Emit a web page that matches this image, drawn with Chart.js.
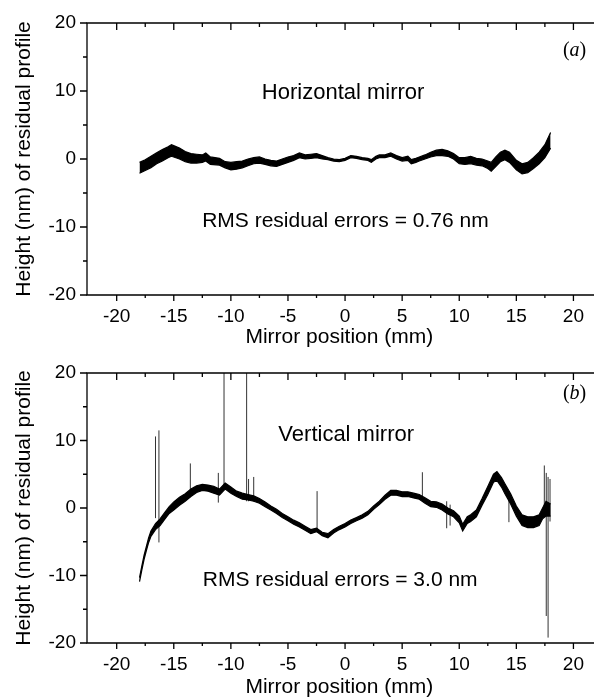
<!DOCTYPE html>
<html>
<head>
<meta charset="utf-8">
<script src="https://cdn.jsdelivr.net/npm/chart.js@4/dist/chart.umd.min.js"></script>
<style>
  body { margin: 0; background: #fff; }
  canvas { display: block; }
</style>
</head>
<body>
<canvas id="chartA" width="594" height="350"></canvas>
<canvas id="chartB" width="594" height="350"></canvas>
<script>
// axis ticks
var xTickValues = [-20, -15, -10, -5, 0, 5, 10, 15, 20];
var yTickValues = [-20, -10, 0, 10, 20];
var xMinor = [-20, -17.5, -15, -12.5, -10, -7.5, -5, -2.5, 0, 2.5, 5, 7.5, 10, 12.5, 15, 17.5, 20];
var yMinor = [-20, -15, -10, -5, 0, 5, 10, 15, 20];

// (a) horizontal mirror: upper and lower edge of the noisy trace
var posA = [-18, -17.5, -17, -16.5, -16, -15.5, -15.2, -14.5, -14, -13.5,
            -13, -12.5, -12.2, -11.8, -11, -10.5, -10, -9.5, -9, -8.5,
            -8, -7.5, -7, -6.5, -6, -5.5, -5, -4.5, -4, -3.5,
            -3, -2.5, -2, -1.5, -1, -0.5, 0, 0.5, 1, 1.5,
            2, 2.3, 2.7, 3, 3.5, 4, 4.5, 5, 5.5, 5.8,
            6.2, 6.5, 7, 7.5, 8, 8.5, 9, 9.5, 10, 10.5,
            11, 11.5, 12, 12.5, 12.8, 13.2, 13.6, 14, 14.4, 15,
            15.5, 16, 16.5, 17, 17.5, 18];
var topA = [-0.5, -0.1, 0.4, 0.9, 1.4, 1.8, 2.1, 1.6, 1.1, 0.8,
            0.7, 0.6, 0.9, 0.3, 0.1, -0.4, -0.5, -0.4, -0.3, 0.0,
            0.2, 0.3, 0.0, -0.2, -0.3, 0.0, 0.3, 0.5, 0.9, 0.6,
            0.7, 0.8, 0.5, 0.2, 0.0, -0.1, 0.1, 0.5, 0.4, 0.2,
            0.1, -0.1, 0.4, 0.6, 0.6, 0.9, 0.5, 0.2, 0.4, -0.1,
            0.1, 0.3, 0.6, 1.0, 1.3, 1.4, 1.2, 0.8, 0.2, 0.2,
            0.4, 0.1, 0.0, -0.3, -0.5, 0.3, 1.0, 1.3, 1.0, -0.2,
            -0.7, -0.5, 0.2, 1.0, 2.1, 3.9];
var lowA = [-2.1, -1.7, -1.3, -0.7, -0.3, 0.2, 0.4, 0.0, -0.4, -0.6,
            -0.6, -0.5, -0.3, -0.8, -0.9, -1.3, -1.6, -1.5, -1.3, -1.0,
            -0.7, -0.6, -0.8, -1.0, -1.1, -0.8, -0.5, -0.2, 0.2, 0.0,
            0.1, 0.2, 0.0, -0.1, -0.3, -0.4, -0.2, 0.2, 0.1, -0.1,
            -0.2, -0.5, 0.0, 0.2, 0.2, 0.4, 0.0, -0.3, -0.2, -0.7,
            -0.5, -0.3, 0.0, 0.3, 0.5, 0.5, 0.4, 0.0, -0.7, -0.8,
            -0.7, -0.9, -1.0, -1.4, -1.8, -1.1, -0.4, -0.1, -0.5, -1.6,
            -2.2, -2.0, -1.4, -0.7, 0.2, 1.6];

// (b) vertical mirror
var posB = [-18, -17.8, -17.6, -17.4, -17.2, -17, -16.6, -16.2, -15.8, -15.4,
            -15, -14.5, -14, -13.5, -13, -12.5, -12, -11.5, -11, -10.5,
            -10, -9.5, -9, -8.5, -8, -7.5, -7, -6.5, -6, -5.5,
            -5, -4.5, -4, -3.5, -3, -2.5, -2, -1.5, -1, -0.5,
            0, 0.5, 1, 1.5, 2, 2.5, 3, 3.5, 4, 4.5,
            5, 5.5, 6, 6.5, 7, 7.5, 8, 8.5, 9, 9.5,
            10, 10.3, 10.7, 11, 11.5, 12, 12.5, 13, 13.3, 13.7,
            14, 14.5, 15, 15.5, 16, 16.5, 17, 17.3, 17.6, 18];
var topB = [-10.3, -8.6, -7.0, -5.7, -4.4, -3.4, -2.3, -1.6, -0.7, 0.2,
            0.9, 1.6, 2.1, 2.8, 3.3, 3.5, 3.4, 3.2, 2.8, 3.7,
            3.1, 2.5, 2.2, 2.0, 1.8, 1.4, 0.9, 0.3, -0.2, -0.8,
            -1.3, -1.8, -2.2, -2.7, -3.2, -3.0, -3.6, -3.8, -3.2, -2.7,
            -2.3, -1.8, -1.4, -1.0, -0.5, 0.3, 1.0, 1.9, 2.6, 2.6,
            2.4, 2.4, 2.2, 2.0, 1.5, 1.0, 0.9, 0.6, 0.0, -0.4,
            -1.2, -2.4, -1.3, -1.0, -0.3, 1.4, 3.2, 5.0, 5.4, 4.5,
            3.6, 2.1, 0.3, -1.0, -1.3, -1.3, -1.0, 0.0, 1.0, 0.6];
var lowB = [-10.9, -9.2, -7.6, -6.3, -5.1, -4.2, -3.2, -2.6, -1.7, -0.8,
            -0.3, 0.4, 1.0, 1.7, 2.3, 2.6, 2.5, 2.2, 1.9, 2.8,
            2.2, 1.7, 1.3, 1.2, 1.0, 0.7, 0.2, -0.3, -0.8, -1.4,
            -1.9, -2.4, -2.8, -3.3, -3.8, -3.5, -4.1, -4.4, -3.7, -3.2,
            -2.8, -2.3, -1.9, -1.5, -1.0, -0.2, 0.5, 1.3, 1.9, 1.9,
            1.7, 1.7, 1.5, 1.3, 0.7, 0.2, 0.1, -0.3, -0.9, -1.3,
            -2.2, -3.4, -2.3, -2.0, -1.3, 0.4, 2.0, 3.8, 4.1, 3.1,
            2.1, 0.6, -1.2, -2.6, -2.9, -2.9, -2.6, -1.6, -1.2, -1.2];
// single-point spikes in (b)
var spikeX   = [-16.6, -16.3, -13.55, -11.1, -10.6, -8.62, -8.45, -8.0, -2.45, 6.77, 8.9, 9.2, 14.35, 17.45, 17.62, 17.78, 17.95];
var spikeTop = [10.6, 11.5, 6.6, 5.2, 20, 20, 4.3, 4.6, 2.5, 5.3, 1.0, 0.5, 2.5, 6.3, 5.2, 4.6, 4.3];
var spikeLow = [-1.5, -5.1, 1.6, 0.8, 2.8, 1.0, 1.0, 1.0, -3.3, 1.5, -3.0, -2.6, -2.1, -1.0, -16.0, -19.2, -2.0];

var FONT = "'Liberation Sans', Arial, sans-serif";
Chart.defaults.font.family = FONT;
Chart.defaults.color = '#000';

function band(pos, top, low) {
  return [
    { data: pos.map(function (x, i) { return { x: x, y: top[i] }; }),
      borderColor: '#000', borderWidth: 1.2, pointRadius: 0, fill: false },
    { data: pos.map(function (x, i) { return { x: x, y: low[i] }; }),
      borderColor: '#000', borderWidth: 1.2, pointRadius: 0, fill: '-1', backgroundColor: '#000' }
  ];
}

var spikeData = [];
spikeX.forEach(function (x, i) {
  spikeData.push({ x: x, y: spikeLow[i] }, { x: x, y: spikeTop[i] }, { x: x, y: null });
});

var frame = {
  id: 'frame',
  afterDraw: function (chart, args, o) {
    var ctx = chart.ctx, a = chart.chartArea, sx = chart.scales.x, sy = chart.scales.y;
    ctx.save();
    ctx.strokeStyle = '#000';
    ctx.lineWidth = 1.3;
    ctx.beginPath();
    ctx.moveTo(chart.width, a.top);
    ctx.lineTo(a.left, a.top);
    ctx.lineTo(a.left, a.bottom);
    ctx.lineTo(chart.width, a.bottom);
    ctx.stroke();

    ctx.beginPath();
    xMinor.forEach(function (v) {
      var px = sx.getPixelForValue(v), len = v % 5 === 0 ? 7 : 4;
      ctx.moveTo(px, a.top);
      ctx.lineTo(px, a.top + len);
      ctx.moveTo(px, a.bottom);
      ctx.lineTo(px, a.bottom + len - 1);
    });
    yMinor.forEach(function (v) {
      var py = sy.getPixelForValue(v), len = v % 10 === 0 ? 7 : 4;
      ctx.moveTo(a.left - len, py);
      ctx.lineTo(a.left, py);
    });
    ctx.stroke();

    ctx.fillStyle = '#000';
    ctx.textAlign = 'center';
    ctx.textBaseline = 'middle';
    o.notes.forEach(function (n) {
      ctx.font = n.size + 'px ' + FONT;
      ctx.fillText(n.text, sx.getPixelForValue(n.x), sy.getPixelForValue(n.y));
    });

    // panel letter: roman brackets, italic letter
    var L = o.letter, roman = "20px 'Liberation Serif', serif", ital = "italic 20px 'Liberation Serif', serif";
    ctx.font = roman; var w1 = ctx.measureText('(').width;
    ctx.font = ital; var w2 = ctx.measureText(L.text).width;
    ctx.font = roman; var w3 = ctx.measureText(')').width;
    var lx = sx.getPixelForValue(L.x) - (w1 + w2 + w3) / 2, ly = sy.getPixelForValue(L.y);
    ctx.textAlign = 'left';
    ctx.font = roman; ctx.fillText('(', lx, ly);
    ctx.font = ital; ctx.fillText(L.text, lx + w1, ly);
    ctx.font = roman; ctx.fillText(')', lx + w1 + w2, ly);
    ctx.restore();
  }
};

function makeChart(id, datasets, notes, letter, axisH) {
  return new Chart(document.getElementById(id), {
    type: 'line',
    data: { datasets: datasets },
    options: {
      responsive: false,
      animation: false,
      devicePixelRatio: 1,
      layout: { padding: { top: 23, right: 0, bottom: 0, left: 0 } },
      plugins: {
        legend: { display: false },
        tooltip: { enabled: false },
        frame: { notes: notes, letter: letter }
      },
      scales: {
        x: {
          type: 'linear', min: -22.6, max: 21.6,
          grid: { display: false, drawTicks: false },
          border: { display: false },
          afterBuildTicks: function (s) { s.ticks = xTickValues.map(function (v) { return { value: v }; }); },
          afterFit: function (s) { s.height = axisH; },
          ticks: { padding: 10, font: { size: 19 }, color: '#000' },
          title: { display: true, text: 'Mirror position (mm)', font: { size: 21 }, color: '#000', padding: 0 }
        },
        y: {
          type: 'linear', min: -20, max: 20,
          grid: { display: false, drawTicks: false },
          border: { display: false },
          afterBuildTicks: function (s) { s.ticks = yTickValues.map(function (v) { return { value: v }; }); },
          afterFit: function (s) { s.width = 87; },
          ticks: { padding: 11, font: { size: 19 }, color: '#000' },
          title: { display: true, text: 'Height (nm) of residual profile', font: { size: 21 }, color: '#000', padding: { top: 12, bottom: 0 } }
        }
      }
    },
    plugins: [frame]
  });
}

makeChart('chartA', band(posA, topA, lowA), [
  { text: 'Horizontal mirror', x: -0.17, y: 9.65, size: 22 },
  { text: 'RMS residual errors = 0.76 nm', x: 0.03, y: -9.2, size: 21 }
], { text: 'a', x: 20.1, y: 15.9 }, 55);

makeChart('chartB', band(posB, topB, lowB).concat([
  { data: spikeData, borderColor: '#333', borderWidth: 1, pointRadius: 0, fill: false, spanGaps: false }
]), [
  { text: 'Vertical mirror', x: 0.1, y: 10.8, size: 22 },
  { text: 'RMS residual errors = 3.0 nm', x: -0.43, y: -10.75, size: 21 }
], { text: 'b', x: 20.1, y: 17.0 }, 57);
</script>
</body>
</html>
